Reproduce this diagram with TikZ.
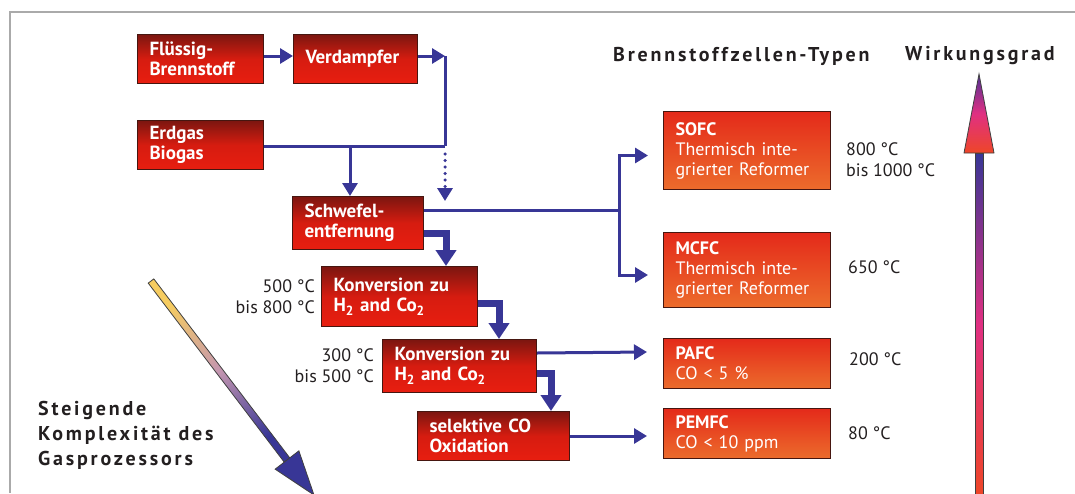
\documentclass[tikz,border=0pt]{standalone}
\usepackage{fontspec}
\setmainfont{PT Sans}
\newfontfamily\spacedfont[LetterSpace=14]{PT Sans}
\usepackage{tikz}
\usetikzlibrary{arrows.meta,positioning,calc}
\definecolor{pipeblue}{RGB}{56,54,150}
\definecolor{gastop}{RGB}{124,22,16}
\definecolor{gasmid}{RGB}{214,28,16}
\definecolor{gasbot}{RGB}{232,30,16}
\definecolor{celltop}{RGB}{228,42,26}
\definecolor{cellbot}{RGB}{236,108,44}
\definecolor{boxedge}{RGB}{70,22,16}
\definecolor{inktext}{RGB}{35,31,32}
\definecolor{framegray}{RGB}{170,170,170}
\definecolor{ylw}{RGB}{246,204,96}
\definecolor{mauve}{RGB}{196,150,176}
\definecolor{pinkred}{RGB}{224,48,130}
\definecolor{orangered}{RGB}{238,70,40}
\definecolor{tipviolet}{RGB}{80,48,150}
\tikzset{gas node/.style={draw=boxedge,line width=1pt,top color=gastop,bottom color=gasbot,middle color=gasmid,
            text=white,font=\fontsize{19}{20}\selectfont\bfseries,align=left,anchor=north west,
            inner xsep=12pt,inner ysep=0pt},
         cell node/.style={gas node,top color=celltop,bottom color=cellbot,font=\fontsize{18}{20}\selectfont},
         temp/.style={text=inktext,font=\fontsize{18}{21}\selectfont,inner sep=0pt},
         heading/.style={text=inktext,font=\spacedfont\bfseries\fontsize{20}{25}\selectfont,inner sep=0pt,align=left},
         pipe/.style={draw=pipeblue,line width=3pt},
         flow/.style={pipe,-{Triangle[length=13pt,width=15pt]}},
         fat flow/.style={draw=pipeblue,line width=7pt,-{Triangle[length=16pt,width=20pt]}},
         arrowedge/.style={draw=black!75,line width=0.8pt}
            }

\begin{document}
\begin{tikzpicture}[x=1pt,y=-1pt]

    \useasboundingbox (0,0) rectangle (1075,493);
    \draw[framegray,line width=1.5pt] (10,493) -- (10,12) -- (1075,12);

    % gas processing chain
    \node[gas node,text width=102pt,minimum height=49pt] (fluessig) at (137,34) {Flüssig-\\Brennstoff};
    \node[gas node,text width=100pt,minimum height=49pt,right=29pt of fluessig] (verdampfer) {Verdampfer};
    \node[gas node,text width=102pt,minimum height=49pt,below=36pt of fluessig] (erdgas) {Erdgas\\Biogas};
    \node[gas node,text width=107pt,minimum height=53pt] (schwefel) at (292,196) {Schwefel-\\entfernung};
    \node[gas node,text width=132pt,minimum height=60pt] (konv1) at (321,266) {Konversion zu\\H\textsubscript{2} and Co\textsubscript{2}};
    \node[gas node,text width=130pt,minimum height=53pt] (konv2) at (382,339) {Konversion zu\\H\textsubscript{2} and Co\textsubscript{2}};
    \node[gas node,text width=128pt,minimum height=49pt] (selektiv) at (417,411) {selektive CO\\Oxidation};

    % fuel cell types
    \node[cell node,text width=143pt,minimum height=78pt] (sofc) at (663,111) {\textbf{SOFC}\\Thermisch inte-\\grierter Reformer};
    \node[cell node,text width=143pt,minimum height=75pt] (mcfc) at (663,232) {\textbf{MCFC}\\Thermisch inte-\\grierter Reformer};
    \node[cell node,text width=143pt,minimum height=50pt] (pafc) at (663,338) {\textbf{PAFC}\\CO < 5 \%};
    \node[cell node,text width=143pt,minimum height=50pt] (pemfc) at (663,408) {\textbf{PEMFC}\\CO < 10 ppm};

    % temperatures
    \node[temp,align=right,left=6pt of konv1] (t1) {500 °C\\bis 800 °C};
    \node[temp,align=right,left=8pt of konv2] (t2) {300 °C\\bis 500 °C};
    \node[temp,align=left,right=15pt of sofc,yshift=-9pt] (t3) {800 °C\\bis 1000 °C};
    \node[temp,right=17pt of mcfc,yshift=3pt] (t4) {650 °C};
    \node[temp,right=18pt of pafc,yshift=4pt] (t5) {200 °C};
    \node[temp,right=17pt of pemfc] (t6) {80 °C};

    % headings
    \node[heading,anchor=west] (typen) at (613,56) {Brennstoffzellen-Typen};
    \node[heading,anchor=west] (wirkung) at (905,56) {Wirkungsgrad};
    \node[heading,anchor=west] (komplex) at (38,435) {Steigende\\Komplexität des\\Gasprozessors};

    % connectors
    \coordinate (vtop) at (445,56);
    \coordinate (vmid) at (445,146);
    \coordinate (drop) at (350,146);
    \coordinate (vend) at (445,201);
    \coordinate (split) at (619,210);

    \draw[flow] (fluessig.east |- vtop) -- (verdampfer.west |- vtop);
    \draw[flow] (verdampfer.east |- vtop) -- (vtop);
    \draw[pipe] (vtop) -- (vmid);
    \draw[pipe] (erdgas.east |- vmid) -- (vmid);
    \draw[flow] (drop) -- (drop |- schwefel.north);
    \draw[flow,line width=3.5pt,line cap=round,dash pattern=on 0pt off 6.5pt] ([yshift=-8pt]vmid) -- (vend);
    \draw[pipe] (schwefel.east |- split) -- (split);
    \draw[flow] (split) |- ([xshift=-15pt,yshift=-5pt]sofc.west);
    \draw[flow] (split) |- ([xshift=-15pt,yshift=-5pt]mcfc.west);
    \draw[fat flow] ([yshift=-10pt]schwefel.east) -| ([xshift=-32pt]konv1.north east);
    \draw[fat flow] ([yshift=-7pt]konv1.east) -| ([xshift=-38pt]konv2.north east);
    \draw[fat flow] ([yshift=-7.5pt]konv2.east) -| ([xshift=-19pt]selektiv.north east);
    \draw[flow] ([yshift=-14pt]konv2.north east) -- ([xshift=-16pt,yshift=-14pt]pafc.north west);
    \draw[flow] (selektiv.east) -- ([xshift=-16pt]selektiv.east -| pemfc.west);

    % complexity arrow
    \coordinate (ktail) at (151,281);
    \coordinate (kbase) at (287,460);
    \coordinate (ktip) at (314,495);
    \shade[top color=ylw,bottom color=pipeblue,middle color=mauve,shading angle=37,arrowedge]
      ($(ktail)!3.5pt!90:(kbase)$) -- ($(kbase)!3.5pt!-90:(ktail)$) -- ($(kbase)!3.5pt!90:(ktail)$) -- ($(ktail)!3.5pt!-90:(kbase)$) -- cycle;
    \filldraw[fill=pipeblue,arrowedge] ($(kbase)!15pt!90:(ktip)$) -- (ktip) -- ($(kbase)!15pt!-90:(ktip)$) -- cycle;

    % efficiency arrow
    \coordinate (wbase) at (979,153);
    \coordinate (wtip) at (979,74);
    \shade[top color=pipeblue,bottom color=orangered,middle color=pinkred,arrowedge] (975,153) rectangle (983,496);
    \shade[top color=tipviolet,bottom color=orangered,middle color=pinkred,arrowedge]
      ([xshift=-15pt]wbase) -- (wtip) -- ([xshift=15pt]wbase) -- cycle;

\end{tikzpicture}
\end{document}
